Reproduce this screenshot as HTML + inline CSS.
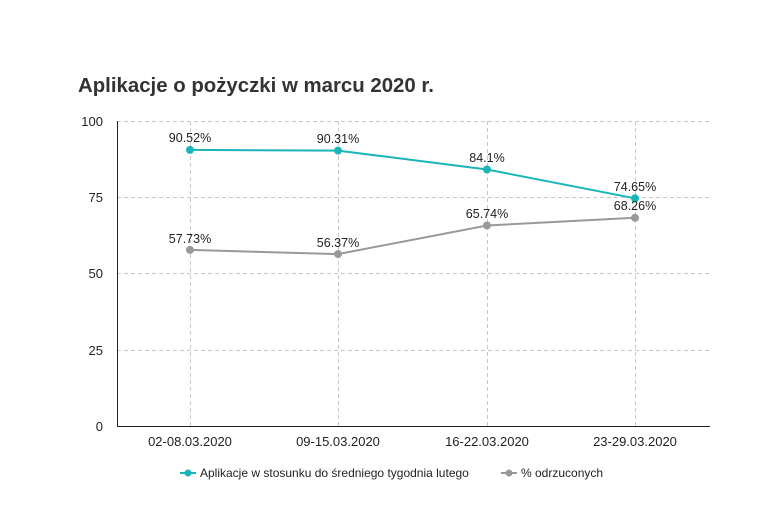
<!DOCTYPE html>
<html><head><meta charset="utf-8"><style>
body{margin:0;background:#fff;}
svg{display:block;font-family:"Liberation Sans",sans-serif;}
</style></head><body>
<svg width="777" height="524" xmlns="http://www.w3.org/2000/svg">
<text x="78" y="92" font-size="20.4" font-weight="bold" fill="#333">Aplikacje o pożyczki w marcu 2020 r.</text>
<g stroke="#c8c8c8" stroke-dasharray="4,3" stroke-width="1">
<line x1="117" y1="121.5" x2="710" y2="121.5"/>
<line x1="117" y1="197.5" x2="710" y2="197.5"/>
<line x1="117" y1="273.5" x2="710" y2="273.5"/>
<line x1="117" y1="350.5" x2="710" y2="350.5"/>
<line x1="190.5" y1="121" x2="190.5" y2="426"/>
<line x1="338.5" y1="121" x2="338.5" y2="426"/>
<line x1="487.5" y1="121" x2="487.5" y2="426"/>
<line x1="635.5" y1="121" x2="635.5" y2="426"/>
</g>
<line x1="117.5" y1="121" x2="117.5" y2="426" stroke="#222"/>
<line x1="117" y1="426.5" x2="710" y2="426.5" stroke="#222"/>
<g font-size="13" fill="#222" text-anchor="end">
<text x="103" y="126">100</text><text x="103" y="202">75</text><text x="103" y="278">50</text><text x="103" y="355">25</text><text x="103" y="431">0</text>
</g>
<g font-size="13" fill="#222" text-anchor="middle">
<text x="190" y="446">02-08.03.2020</text><text x="338" y="446">09-15.03.2020</text><text x="487" y="446">16-22.03.2020</text><text x="635" y="446">23-29.03.2020</text>
</g>
<polyline points="190,149.9 338,150.6 487,169.5 635,198.3" fill="none" stroke="#1ab5b8" stroke-width="2"/>
<polyline points="190,249.9 338,254.1 487,225.5 635,217.8" fill="none" stroke="#999" stroke-width="2"/>
<g fill="#1ab5b8"><circle cx="190" cy="149.9" r="4"/><circle cx="338" cy="150.6" r="4"/><circle cx="487" cy="169.5" r="4"/><circle cx="635" cy="198.3" r="4"/></g>
<g fill="#999"><circle cx="190" cy="249.9" r="4"/><circle cx="338" cy="254.1" r="4"/><circle cx="487" cy="225.5" r="4"/><circle cx="635" cy="217.8" r="4"/></g>
<g font-size="12.5" fill="#222" text-anchor="middle">
<text x="190" y="142">90.52%</text><text x="338" y="143">90.31%</text><text x="487" y="162">84.1%</text><text x="635" y="191">74.65%</text>
<text x="190" y="243">57.73%</text><text x="338" y="247">56.37%</text><text x="487" y="218">65.74%</text><text x="635" y="210">68.26%</text>
</g>
<g font-size="12" fill="#222">
<line x1="180" y1="473" x2="196" y2="473" stroke="#1ab5b8" stroke-width="2"/><circle cx="188" cy="473" r="3.5" fill="#1ab5b8"/>
<text x="200" y="477">Aplikacje w stosunku do średniego tygodnia lutego</text>
<line x1="501" y1="473" x2="517" y2="473" stroke="#999" stroke-width="2"/><circle cx="509" cy="473" r="3.5" fill="#999"/>
<text x="521" y="477">% odrzuconych</text>
</g>
</svg>
</body></html>
